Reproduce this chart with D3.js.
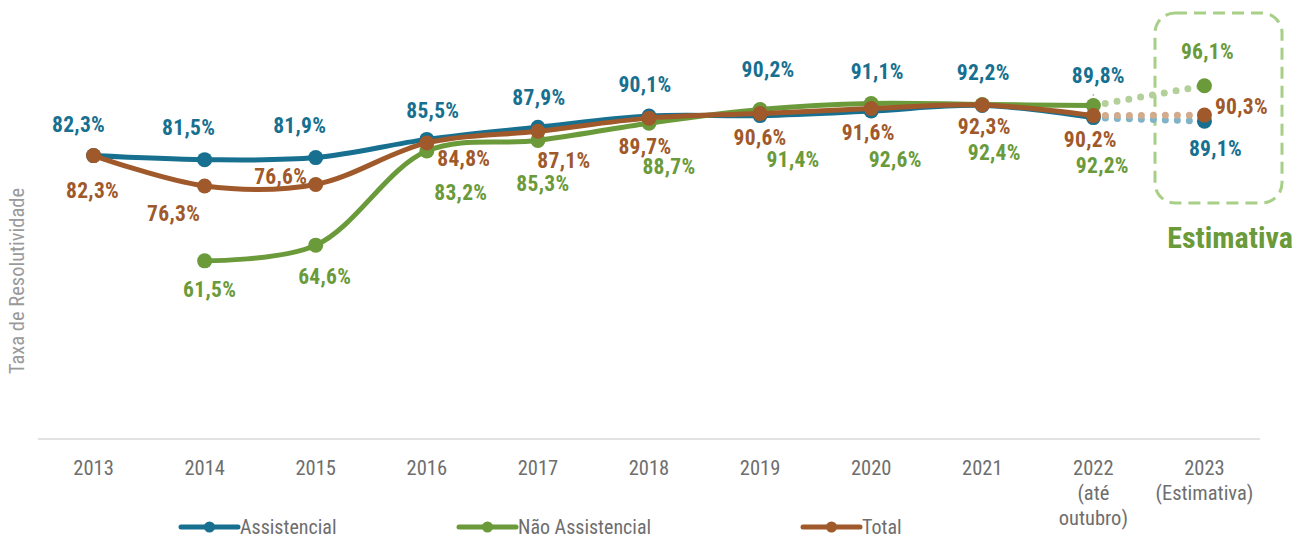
<!DOCTYPE html>
<html>
<head>
<meta charset="utf-8">
<script src="https://cdn.jsdelivr.net/npm/d3@7"></script>
<style>
  body { margin: 0; background: #fff; }
  svg { display: block; font-family: "Liberation Sans Narrow", "Roboto Condensed", "Arial Narrow", "Liberation Sans", sans-serif; }
</style>
</head>
<body>
<svg id="chart" width="1294" height="538"></svg>
<script>
// categories and values
const years = ["2013", "2014", "2015", "2016", "2017", "2018", "2019", "2020", "2021", "2022", "2023"];
const yearSub = [[], [], [], [], [], [], [], [], [], ["(até", "outubro)"], ["(Estimativa)"]];
const assistencial = [82.3, 81.5, 81.9, 85.5, 87.9, 90.1, 90.2, 91.1, 92.2, 89.8, 89.1];
const naoAssistencial = [null, 61.5, 64.6, 83.2, 85.3, 88.7, 91.4, 92.6, 92.4, 92.2, 96.1];
const total = [82.3, 76.3, 76.6, 84.8, 87.1, 89.7, 90.6, 91.6, 92.3, 90.2, 90.3];

// label placement (offset of label centre from its point)
const offAssist = [[-15,-31],[-16,-32],[-16,-32],[6,-29],[1,-30],[-4,-32],[8,-46],[6,-40],[1,-33],[5,-42],[11,27]];
const offNao = [null,[5,29],[9,31],[34,41],[5,43],[20,43],[33,50],[24,56],[12,48],[9,60],[3,-34]];
const offTotal = [[-1,35],[-31,28],[-35,-8],[37,16],[26,29],[-4,28],[0,24],[-3,24],[2,22],[-3,24],[37,-9]];

const svg = d3.select("#chart");

const x = d3.scaleBand().domain(years).range([38, 1260]);
const cx = d => x(d) + x.bandwidth() / 2;
const y = d3.scaleLinear().domain([26.3, 100]).range([439, 66]);

const series = [
  { name: "Assistencial", values: assistencial, color: "#17708f", light: "#7fb3c8", offs: offAssist },
  { name: "Não Assistencial", values: naoAssistencial, color: "#6a9a3a", light: "#b3cf9a", offs: offNao },
  { name: "Total", values: total, color: "#a0592a", light: "#d2aa8c", offs: offTotal }
];

// x axis line
svg.append("line")
  .attr("x1", 38).attr("x2", 1260).attr("y1", 439).attr("y2", 439)
  .attr("stroke", "#d9d9d9").attr("stroke-width", 1.5);

// tick labels
const ticks = svg.append("g").attr("fill", "#6e6e6e").attr("font-size", 20.5).attr("text-anchor", "middle");
years.forEach((yr, i) => {
  const t = ticks.append("text").attr("x", cx(yr)).attr("y", 475);
  t.append("tspan").attr("x", cx(yr)).text(yr);
  yearSub[i].forEach(s => t.append("tspan").attr("x", cx(yr)).attr("dy", 25).text(s));
});

// y title
svg.append("text")
  .attr("transform", "translate(24,281) rotate(-90)")
  .attr("text-anchor", "middle").attr("font-size", 20.5).attr("fill", "#9a9a9a")
  .text("Taxa de Resolutividade");

// estimate box
svg.append("rect")
  .attr("x", 1155).attr("y", 13).attr("width", 127).attr("height", 190).attr("rx", 20)
  .attr("fill", "none").attr("stroke", "#a8cf88").attr("stroke-width", 3)
  .attr("stroke-dasharray", "12 7");
svg.append("text")
  .attr("x", 1230).attr("y", 248).attr("text-anchor", "middle")
  .attr("font-size", 30).attr("font-weight", "bold").attr("fill", "#6a9a3a")
  .text("Estimativa");

// small gray marker at 2022
svg.append("line")
  .attr("x1", cx("2022")).attr("x2", cx("2022")).attr("y1", 94).attr("y2", 122)
  .attr("stroke", "#bbbbbb").attr("stroke-width", 1.5).attr("stroke-dasharray", "2 2");

const line = d3.line()
  .defined(d => d.v != null)
  .x(d => cx(d.year)).y(d => y(d.v))
  .curve(d3.curveCatmullRom.alpha(0.5));

// dotted estimate segments
series.forEach(s => {
  const pts = s.values.map((v, i) => ({ year: years[i], v })).slice(9);
  svg.append("path")
    .attr("d", d3.line().x(d => cx(d.year)).y(d => y(d.v))(pts))
    .attr("fill", "none").attr("stroke", s.light).attr("stroke-width", 7)
    .attr("stroke-linecap", "round").attr("stroke-dasharray", "0 12");
});

// solid lines and markers
series.forEach(s => {
  const pts = s.values.map((v, i) => ({ year: years[i], v }));
  svg.append("path")
    .datum(pts.slice(0, 10))
    .attr("d", line)
    .attr("fill", "none").attr("stroke", s.color).attr("stroke-width", 5)
    .attr("stroke-linecap", "round");
  svg.append("g").selectAll("circle")
    .data(pts.filter(d => d.v != null))
    .join("circle")
    .attr("cx", d => cx(d.year)).attr("cy", d => y(d.v)).attr("r", 7.5)
    .attr("fill", s.color);
});

// data labels
const fmt = v => d3.format(".1f")(v).replace(".", ",") + "%";
series.forEach(s => {
  s.values.forEach((v, i) => {
    if (v == null) return;
    const o = s.offs[i];
    svg.append("text")
      .attr("x", cx(years[i]) + o[0]).attr("y", y(v) + o[1])
      .attr("dy", "0.35em").attr("text-anchor", "middle")
      .attr("font-size", 21.5).attr("letter-spacing", 0.3)
      .attr("font-weight", "bold").attr("fill", s.color)
      .text(fmt(v));
  });
});

// legend
const legX = [181, 459, 803];
series.forEach((s, i) => {
  const g = svg.append("g").attr("transform", `translate(${legX[i]},527)`);
  g.append("line").attr("x1", 0).attr("x2", 57).attr("stroke", s.color)
    .attr("stroke-width", 5).attr("stroke-linecap", "round");
  g.append("circle").attr("cx", 28.5).attr("r", 5.5).attr("fill", s.color);
  g.append("text").attr("x", 59).attr("dy", "0.35em")
    .attr("font-size", 20).attr("fill", "#6e6e6e").text(s.name);
});
</script>
</body>
</html>
